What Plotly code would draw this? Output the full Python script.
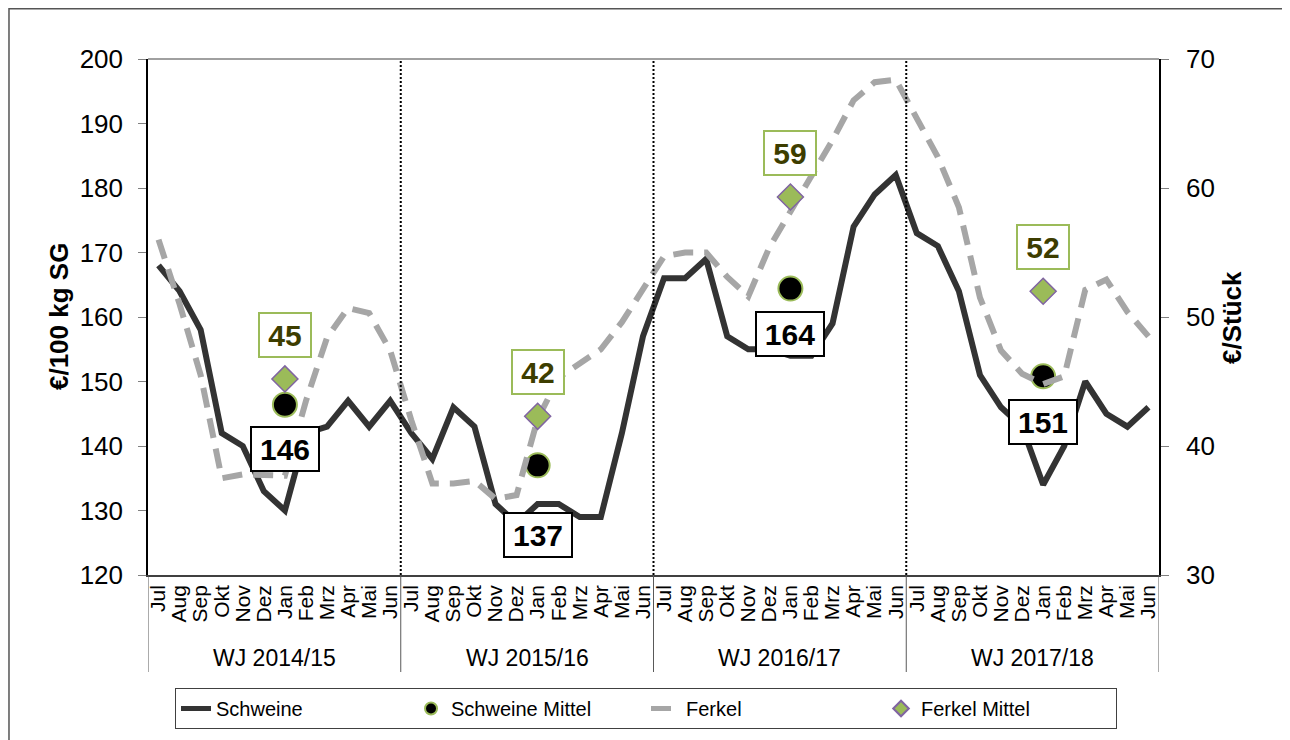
import plotly.graph_objects as go

# ---------------- data ----------------
months = ["Jul", "Aug", "Sep", "Okt", "Nov", "Dez", "Jan", "Feb", "Mrz", "Apr", "Mai", "Jun"]
years = ["WJ 2014/15", "WJ 2015/16", "WJ 2016/17", "WJ 2017/18"]

schweine = [168, 164, 158, 142, 140, 133, 130, 142, 143, 147, 143, 147,
            142, 138, 146, 143, 131, 128, 131, 131, 129, 129, 142, 157,
            166, 166, 169, 157, 155, 155, 154, 154, 159, 174, 179, 182,
            173, 171, 164, 151, 146, 143, 134, 140, 150, 145, 143, 146]

ferkel = [56.0, 51.0, 45.5, 37.5, 37.8, 37.8, 37.7, 43.5, 48.4, 50.7, 50.3, 47.4,
          42.0, 37.1, 37.1, 37.3, 35.9, 36.2, 42.1, 45.3, 46.4, 47.5, 49.6, 52.1,
          54.7, 55.0, 55.0, 53.1, 51.6, 55.4, 58.2, 61.0, 63.7, 66.8, 68.2, 68.4,
          65.5, 62.4, 58.5, 51.5, 47.4, 45.6, 44.8, 45.4, 52.1, 52.9, 50.4, 48.5]

schweine_mittel = [146.4, 137.0, 164.4, 150.8]
ferkel_mittel = [45.2, 42.3, 59.3, 52.0]
mittel_month = "Jan"

left_ticks = [120, 130, 140, 150, 160, 170, 180, 190, 200]
right_ticks = [30, 40, 50, 60, 70]

# ---------------- derived positions ----------------
n_m = len(months)
x_all = list(range(len(years) * n_m))
tick_text = months * len(years)
x_mittel = [i * n_m + months.index(mittel_month) for i in range(len(years))]

# label offsets (px, style only)
schweine_label_shift = [-44, -70, -45, -46]
ferkel_label_shift = 44

FONT = "Liberation Sans, Arial, sans-serif"
GREEN = "#9BBB59"
PURPLE = "#8064A2"
DARK = "#333333"
GREY = "#A6A6A6"

fig = go.Figure()

fig.add_trace(go.Scatter(
    x=x_all, y=schweine, mode="lines", name="Schweine",
    line=dict(color=DARK, width=6), yaxis="y"))
fig.add_trace(go.Scatter(
    x=x_mittel, y=schweine_mittel, mode="markers", name="Schweine Mittel",
    marker=dict(symbol="circle", size=24, color="black", line=dict(color=GREEN, width=2)),
    yaxis="y"))
fig.add_trace(go.Scatter(
    x=x_all, y=ferkel, mode="lines", name="Ferkel",
    line=dict(color=GREY, width=6, dash="20px,11px"), yaxis="y2"))
fig.add_trace(go.Scatter(
    x=x_mittel, y=ferkel_mittel, mode="markers", name="Ferkel Mittel",
    marker=dict(symbol="diamond", size=20, color=GREEN, line=dict(color=PURPLE, width=1.5)),
    yaxis="y2"))

annotations = []
for xm, v, sh in zip(x_mittel, schweine_mittel, schweine_label_shift):
    annotations.append(dict(
        x=xm, y=v, xref="x", yref="y", text=f"<b>{round(v)}</b>", showarrow=False,
        yshift=sh, xanchor="center", yanchor="middle",
        font=dict(family=FONT, size=30, color="black"),
        bgcolor="white", bordercolor="black", borderwidth=2, borderpad=1,
        width=64, height=40))
for xm, v in zip(x_mittel, ferkel_mittel):
    annotations.append(dict(
        x=xm, y=v, xref="x", yref="y2", text=f"<b>{round(v)}</b>", showarrow=False,
        yshift=ferkel_label_shift, xanchor="center", yanchor="middle",
        font=dict(family=FONT, size=30, color="#3D3D00"),
        bgcolor="white", bordercolor=GREEN, borderwidth=2, borderpad=1,
        width=48, height=40))

# group labels
for i, yl in enumerate(years):
    annotations.append(dict(
        x=i * n_m + (n_m - 1) / 2, y=-0.161, xref="x", yref="paper",
        text=yl, showarrow=False, xanchor="center", yanchor="middle",
        font=dict(family=FONT, size=23, color="black")))

# axis titles
annotations.append(dict(x=-0.088, y=0.5, xref="paper", yref="paper",
                        xanchor="center", yanchor="middle",
                        text="<b>€/100 kg SG</b>", textangle=-90, showarrow=False,
                        font=dict(family=FONT, size=26, color="black")))
annotations.append(dict(x=1.0722, y=0.5, xref="paper", yref="paper",
                        xanchor="center", yanchor="middle",
                        text="<b>€/Stück</b>", textangle=-90, showarrow=False,
                        font=dict(family=FONT, size=26, color="black")))

shapes = []
# dotted year dividers inside plot
for i in range(1, len(years)):
    shapes.append(dict(type="line", xref="x", yref="paper",
                       x0=i * n_m - 0.5, x1=i * n_m - 0.5, y0=0, y1=1,
                       line=dict(color="black", width=2, dash="2px,2px")))
# separators below axis
for i in range(len(years) + 1):
    shapes.append(dict(type="line", xref="x", yref="paper",
                       x0=i * n_m - 0.5, x1=i * n_m - 0.5, y0=-0.188, y1=0,
                       line=dict(color="#595959", width=1)))
# top border of plot area
shapes.append(dict(type="line", xref="paper", yref="paper", x0=0, x1=1, y0=1, y1=1,
                   line=dict(color="#808080", width=1.5)))
# outer frame
shapes.append(dict(type="rect", xref="paper", yref="paper",
                   x0=-0.1375, x1=1.1246, y0=-0.35, y1=1.0975,
                   line=dict(color="#555555", width=1.5), fillcolor="rgba(0,0,0,0)"))

fig.update_layout(
    width=1282, height=732,
    margin=dict(l=140, r=131, t=51, b=165, autoexpand=False),
    paper_bgcolor="white", plot_bgcolor="white",
    font=dict(family=FONT, color="black"),
    showlegend=True,
    legend=dict(orientation="h", x=0.4926, xanchor="center", y=-0.219, yanchor="top",
                font=dict(family=FONT, size=20, color="black"),
                bordercolor="#404040", borderwidth=1, bgcolor="white",
                entrywidth=190, traceorder="normal", itemsizing="constant"),
    xaxis=dict(range=[-0.5, len(x_all) - 0.5], tickmode="array", tickvals=x_all,
               ticktext=tick_text, tickangle=-90, showgrid=False, zeroline=False,
               showline=True, linecolor="#404040", linewidth=1.5, ticks="",
               automargin=False,
               tickfont=dict(family=FONT, size=21, color="black")),
    yaxis=dict(range=[120, 200], tickmode="array", tickvals=left_ticks, showgrid=False,
               zeroline=False, showline=True, linecolor="black", linewidth=1.5,
               ticks="outside", ticklen=8, tickcolor="#808080", ticklabelstandoff=10,
               automargin=False,
               tickfont=dict(family=FONT, size=26, color="black")),
    yaxis2=dict(range=[30, 70], tickmode="array", tickvals=right_ticks, overlaying="y",
                side="right", showgrid=False, zeroline=False, showline=True,
                linecolor="black", linewidth=1.5, ticks="outside", ticklen=8,
                tickcolor="#808080", ticklabelstandoff=12, automargin=False,
                tickfont=dict(family=FONT, size=26, color="black")),
    annotations=annotations,
    shapes=shapes,
)

fig.write_html("out.html")
